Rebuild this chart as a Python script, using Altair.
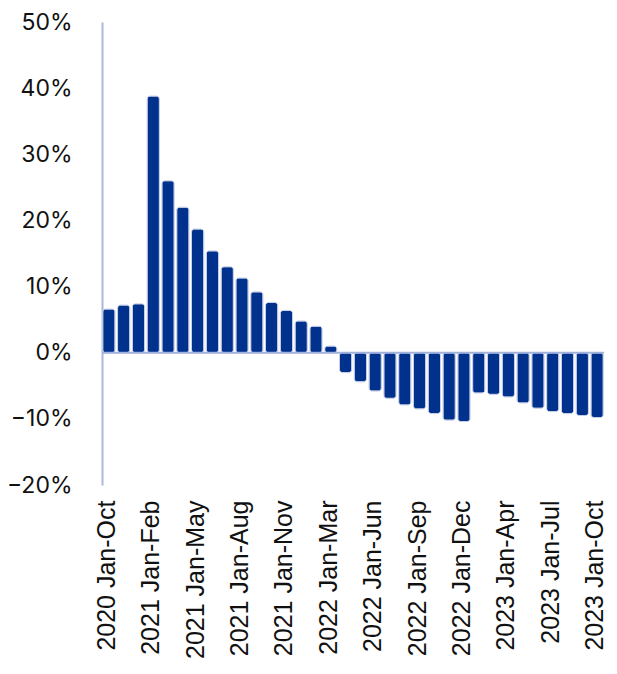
import altair as alt
import pandas as pd

periods = [
    "2020 Jan-Oct", "2020 Jan-Nov", "2020 Jan-Dec",
    "2021 Jan-Feb", "2021 Jan-Mar", "2021 Jan-Apr", "2021 Jan-May", "2021 Jan-Jun",
    "2021 Jan-Jul", "2021 Jan-Aug", "2021 Jan-Sep", "2021 Jan-Oct", "2021 Jan-Nov", "2021 Jan-Dec",
    "2022 Jan-Feb", "2022 Jan-Mar", "2022 Jan-Apr", "2022 Jan-May", "2022 Jan-Jun",
    "2022 Jan-Jul", "2022 Jan-Aug", "2022 Jan-Sep", "2022 Jan-Oct", "2022 Jan-Nov", "2022 Jan-Dec",
    "2023 Jan-Feb", "2023 Jan-Mar", "2023 Jan-Apr", "2023 Jan-May", "2023 Jan-Jun",
    "2023 Jan-Jul", "2023 Jan-Aug", "2023 Jan-Sep", "2023 Jan-Oct",
]
growth = [
    6.6, 7.2, 7.4,
    38.8, 26.0, 22.0, 18.7, 15.4, 13.0, 11.3, 9.2, 7.6, 6.4, 4.8,
    4.0, 1.0, -3.0, -4.4, -5.8, -6.9, -7.9, -8.5, -9.2, -10.2, -10.4,
    -6.1, -6.3, -6.7, -7.6, -8.4, -8.9, -9.2, -9.5, -9.8,
]
tick_labels = periods[::3]

df = pd.DataFrame({"period": periods, "growth": [g / 100 for g in growth]})

x = alt.X(
    "period:N",
    sort=periods,
    scale=alt.Scale(paddingInner=0.17, paddingOuter=0.05),
    axis=alt.Axis(
        values=tick_labels, title=None, labelAngle=-90, labelAlign="right",
        labelBaseline="middle", labelFontSize=25, labelFont="Liberation Sans",
        labelColor="#111111", labelPadding=15, labelOffset=-2, ticks=False, domain=False,
    ),
)
y = alt.Y(
    "growth:Q",
    scale=alt.Scale(domain=[-0.2, 0.5], nice=False),
    axis=alt.Axis(
        format=".0%", values=[-0.2, -0.1, 0, 0.1, 0.2, 0.3, 0.4, 0.5], title=None,
        grid=False, ticks=False, domain=True, domainColor="#a9b8dc", domainWidth=2,
        labelFontSize=23, labelFont="Inter", labelColor="#111111", labelPadding=30,
    ),
)

bars = alt.Chart(df).mark_bar(
    color="#00318C", cornerRadius=3, stroke="#c5cee6", strokeWidth=1
).encode(x=x, y=y)

zero = alt.Chart(pd.DataFrame({"z": [0.0]})).mark_rule(
    color="#9fb1dc", strokeWidth=2
).encode(y=alt.Y("z:Q", scale=alt.Scale(domain=[-0.2, 0.5], nice=False)))

chart = alt.layer(bars, zero).properties(
    width=502, height=463,
    autosize=alt.AutoSizeParams(type="none"),
    padding={"left": 94, "top": 14, "right": 5, "bottom": 176},
).configure_view(stroke=None)

chart.save("out.html", embed_options={"renderer": "svg", "actions": False})
